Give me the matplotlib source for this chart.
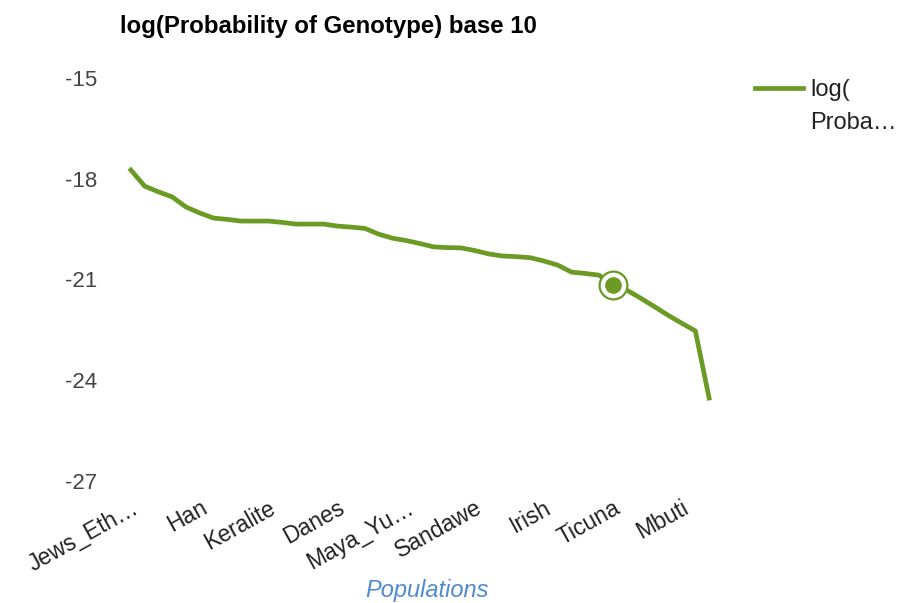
import matplotlib.pyplot as plt
from matplotlib.lines import Line2D

# data (log10 probability per population, sorted)
values = [-17.74, -18.22, -18.39, -18.54, -18.84, -19.02, -19.17, -19.21, -19.26, -19.26,
          -19.26, -19.30, -19.35, -19.35, -19.35, -19.41, -19.44, -19.48, -19.65, -19.77,
          -19.84, -19.93, -20.03, -20.05, -20.06, -20.14, -20.24, -20.30, -20.32, -20.35,
          -20.45, -20.57, -20.78, -20.82, -20.87, -21.16, -21.31, -21.55, -21.80, -22.06,
          -22.30, -22.53, -24.53]
tick_idx = [0, 5, 10, 15, 20, 25, 30, 35, 40]
tick_labels = ['Jews_Eth…', 'Han', 'Keralite', 'Danes', 'Maya_Yu…',
               'Sandawe', 'Irish', 'Ticuna', 'Mbuti']
y_ticks = [-15, -18, -21, -24, -27]
highlight = 35

green = '#6b9b25'
plt.rcParams['font.family'] = ['Liberation Sans', 'DejaVu Sans']

fig = plt.figure(figsize=(9.01, 6.03), dpi=100)
ax = fig.add_axes([124 / 901, 122 / 603, 592 / 901, 403 / 603])

x = list(range(len(values)))
ax.plot(x, values, color=green, linewidth=3.4, solid_joinstyle='round')

# highlighted point: ring + dot
ax.plot(x[highlight], values[highlight], 'o', markersize=20, markerfacecolor='white',
        markeredgecolor=green, markeredgewidth=1.6)
ax.plot(x[highlight], values[highlight], 'o', markersize=11, color=green)

ax.set_xlim(-0.5, len(values) - 0.5)
ax.set_ylim(-27, -15)
ax.set_yticks(y_ticks)
ax.set_yticklabels([str(v) for v in y_ticks], fontsize=16, color='#444444')
ax.set_xticks(tick_idx)
ax.set_xticklabels(tick_labels, fontsize=16.5, color='#222222', rotation=29,
                   ha='right', rotation_mode='anchor')
ax.tick_params(axis='y', length=0, pad=19)
ax.tick_params(axis='x', length=0, pad=11)
for s in ax.spines.values():
    s.set_visible(False)

fig.text(120 / 901, 1 - 27 / 603, 'log(Probability of Genotype) base 10',
         fontsize=17.3, fontweight='bold', va='center', ha='left', color='#000000')
fig.text(427 / 901, 1 - 590 / 603, 'Populations', fontsize=17, style='italic',
         color='#4f8bd0', ha='center', va='center')

# legend
fig.add_artist(Line2D([755 / 901, 803 / 901], [1 - 88 / 603] * 2, color=green,
                      linewidth=3.4, transform=fig.transFigure))
fig.text(810 / 901, 1 - 90 / 603, 'log(', fontsize=17, color='#222222', va='center')
fig.text(810 / 901, 1 - 123 / 603, 'Proba…', fontsize=17, color='#222222', va='center')

plt.savefig('out.png', dpi=100)
